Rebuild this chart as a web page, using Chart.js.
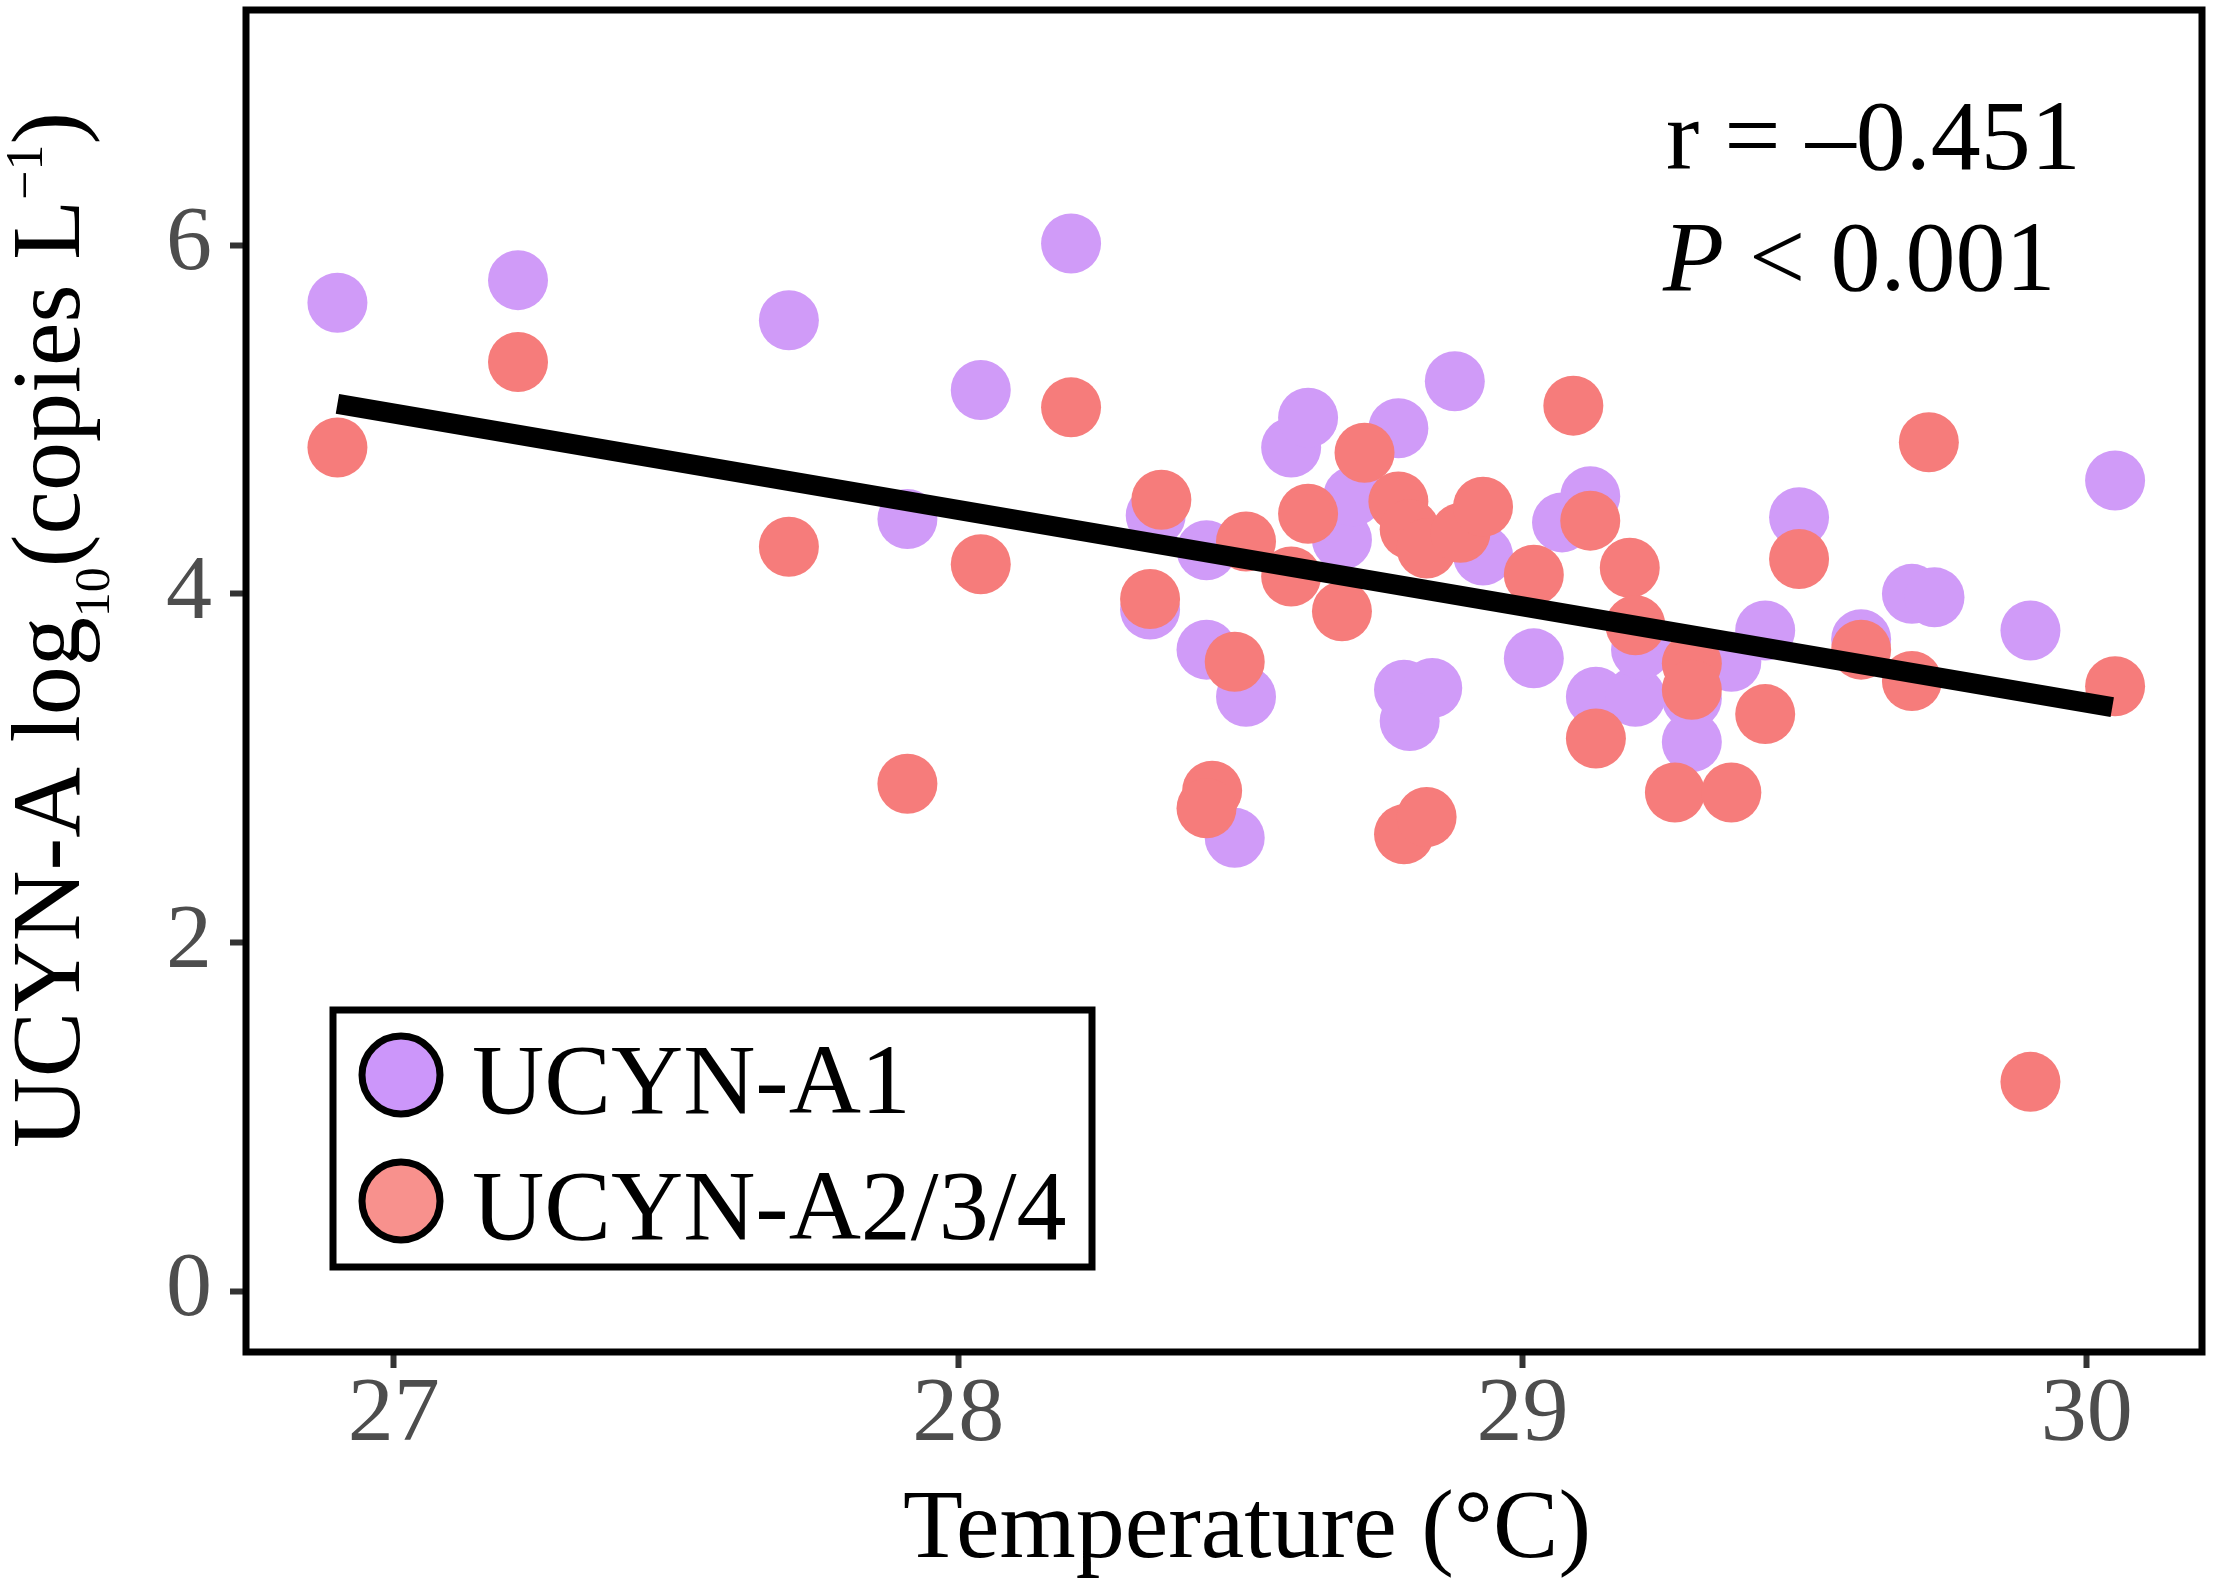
<!DOCTYPE html>
<html>
<head>
<meta charset="utf-8">
<script src="https://cdn.jsdelivr.net/npm/chart.js@4.4.1/dist/chart.umd.min.js"></script>
<style>
html, body { margin: 0; padding: 0; background: #fff; }
</style>
</head>
<body>
<canvas id="ucynChart" width="2217" height="1584"></canvas>
<script>
// UCYN-A1 : temperature (°C) and log10 copies per litre
const a1Temp = [26.90, 27.22, 27.70, 28.20, 28.04, 27.91, 28.35, 28.34, 28.44, 28.44, 28.51, 28.49, 28.59, 28.62, 28.68, 28.70, 28.78, 28.88, 28.79, 28.84, 28.80, 28.93, 29.02, 29.07, 29.12, 29.13, 29.20, 29.21, 29.30, 29.30, 29.37, 29.43, 29.49, 29.60, 29.69, 29.73, 29.90, 30.05];
const a1Log = [5.67, 5.80, 5.57, 6.01, 5.17, 4.43, 4.45, 3.91, 4.25, 3.68, 3.41, 2.60, 4.84, 5.01, 4.31, 4.56, 4.95, 5.22, 3.45, 3.46, 3.27, 4.22, 3.63, 4.41, 4.56, 3.41, 3.41, 3.68, 3.40, 3.15, 3.61, 3.79, 4.44, 3.74, 4.00, 3.98, 3.79, 4.65];

// UCYN-A2/3/4
const a234Temp = [26.90, 27.22, 27.70, 28.20, 28.04, 27.91, 28.36, 28.34, 28.51, 28.49, 28.45, 28.44, 28.62, 28.59, 28.68, 28.72, 28.78, 28.80, 28.83, 28.89, 28.93, 28.79, 28.83, 29.09, 29.02, 29.12, 29.19, 29.20, 29.13, 29.30, 29.30, 29.27, 29.37, 29.43, 29.49, 29.60, 29.69, 29.72, 30.05, 29.90];
const a234Log = [4.84, 5.33, 4.27, 5.07, 4.17, 2.91, 4.54, 3.97, 4.30, 3.61, 2.87, 2.77, 4.46, 4.10, 3.90, 4.81, 4.53, 4.37, 4.26, 4.35, 4.50, 2.62, 2.72, 5.08, 4.11, 4.42, 4.15, 3.82, 3.17, 3.60, 3.45, 2.86, 2.86, 3.31, 4.20, 3.68, 3.50, 4.87, 3.47, 1.20];

// regression line end points
const fitTemp = [26.90, 30.045];
const fitLog = [5.09, 3.35];

const xTicks = [27, 28, 29, 30];
const yTicks = [0, 2, 4, 6];
const seriesNames = ['UCYN-A1', 'UCYN-A2/3/4'];
const statLines = ['r = \u20130.451', ' < 0.001'];

const SERIF = '"Liberation Serif", "Times New Roman", serif';
const purple = 'rgb(208, 155, 248)';
const salmon = 'rgb(246, 124, 123)';
const legendFill = ['rgb(204, 150, 250)', 'rgb(248, 145, 141)'];

function toPoints(xs, ys) {
    return xs.map((x, i) => ({ x: x, y: ys[i] }));
}

const decor = {
    id: 'decor',
    afterDatasetsDraw(chart) {
        const ctx = chart.ctx;
        const a = chart.chartArea;
        ctx.save();

        // panel border
        ctx.lineWidth = 7;
        ctx.strokeStyle = '#000';
        ctx.strokeRect(a.left, a.top, a.right - a.left, a.bottom - a.top);

        // r and P text
        ctx.fillStyle = '#000';
        ctx.textAlign = 'left';
        ctx.textBaseline = 'alphabetic';
        ctx.font = '100px ' + SERIF;
        ctx.fillText(statLines[0], 1666, 169);
        ctx.font = 'italic 100px ' + SERIF;
        ctx.fillText('P', 1663, 290);
        const pw = ctx.measureText('P').width;
        ctx.font = '100px ' + SERIF;
        ctx.fillText(statLines[1], 1663 + pw, 290);

        // legend box
        ctx.lineWidth = 7;
        ctx.strokeStyle = '#000';
        ctx.fillStyle = '#fff';
        ctx.fillRect(333, 1010, 759, 257);
        ctx.strokeRect(333, 1010, 759, 257);
        const rows = [1075, 1201];
        seriesNames.forEach((name, i) => {
            ctx.beginPath();
            ctx.arc(401, rows[i], 39, 0, Math.PI * 2);
            ctx.fillStyle = legendFill[i];
            ctx.fill();
            ctx.lineWidth = 7;
            ctx.strokeStyle = '#000';
            ctx.stroke();
            ctx.fillStyle = '#000';
            ctx.font = '100px ' + SERIF;
            ctx.fillText(name, 472, rows[i] + 38);
        });

        // x axis title
        ctx.textAlign = 'center';
        ctx.font = '98px ' + SERIF;
        ctx.fillText('Temperature (\u00b0C)', 1247, 1557);

        // y axis title with sub/superscript
        const parts = [
            { t: 'UCYN-A log', size: 98, dy: 0 },
            { t: '10', size: 50, dy: 30 },
            { t: '(copies L', size: 98, dy: 0 },
            { t: '\u22121', size: 52, dy: -37 },
            { t: ')', size: 98, dy: 0 }
        ];
        let total = 0;
        parts.forEach(p => {
            ctx.font = p.size + 'px ' + SERIF;
            p.w = ctx.measureText(p.t).width;
            total += p.w;
        });
        ctx.translate(79, 630);
        ctx.rotate(-Math.PI / 2);
        ctx.textAlign = 'left';
        let x = -total / 2;
        parts.forEach(p => {
            ctx.font = p.size + 'px ' + SERIF;
            ctx.fillText(p.t, x, p.dy);
            x += p.w;
        });
        ctx.restore();
    }
};

function noPad(s) {
    s.paddingTop = 0;
    s.paddingBottom = 0;
    s.paddingLeft = 0;
    s.paddingRight = 0;
}

const ctx = document.getElementById('ucynChart').getContext('2d');
const chart = new Chart(ctx, {
    type: 'scatter',
    data: {
        datasets: [
            {
                type: 'line',
                label: 'fit',
                data: toPoints(fitTemp, fitLog),
                borderColor: '#000',
                borderWidth: 20,
                borderCapStyle: 'butt',
                pointRadius: 0,
                fill: false,
                order: 0
            },
            {
                label: seriesNames[1],
                data: toPoints(a234Temp, a234Log),
                backgroundColor: salmon,
                borderWidth: 0,
                pointRadius: 30,
                order: 1
            },
            {
                label: seriesNames[0],
                data: toPoints(a1Temp, a1Log),
                backgroundColor: purple,
                borderWidth: 0,
                pointRadius: 30,
                order: 2
            }
        ]
    },
    options: {
        responsive: false,
        devicePixelRatio: 1,
        animation: false,
        layout: { autoPadding: false, padding: { left: 0, right: 15, top: 10, bottom: 0 } },
        plugins: {
            legend: { display: false },
            tooltip: { enabled: false }
        },
        scales: {
            x: {
                type: 'linear',
                min: 26.738,
                max: 30.204,
                afterBuildTicks: s => { s.ticks = xTicks.map(v => ({ value: v })); },
                afterFit: s => { s.height = 232; noPad(s); },
                grid: { drawOnChartArea: false, tickLength: 16, tickWidth: 6, tickColor: '#333' },
                border: { display: false },
                ticks: {
                    callback: v => String(v),
                    color: '#4d4d4d',
                    padding: 2,
                    maxRotation: 0,
                    font: { family: SERIF, size: 92, lineHeight: 1 }
                }
            },
            y: {
                type: 'linear',
                min: -0.35,
                max: 7.35,
                afterBuildTicks: s => { s.ticks = yTicks.map(v => ({ value: v })); },
                afterFit: s => { s.width = 246; noPad(s); },
                grid: { drawOnChartArea: false, tickLength: 16, tickWidth: 6, tickColor: '#333' },
                border: { display: false },
                ticks: {
                    callback: v => String(v),
                    color: '#4d4d4d',
                    padding: 18,
                    font: { family: SERIF, size: 92, lineHeight: 1 }
                }
            }
        }
    },
    plugins: [decor]
});
</script>
</body>
</html>
